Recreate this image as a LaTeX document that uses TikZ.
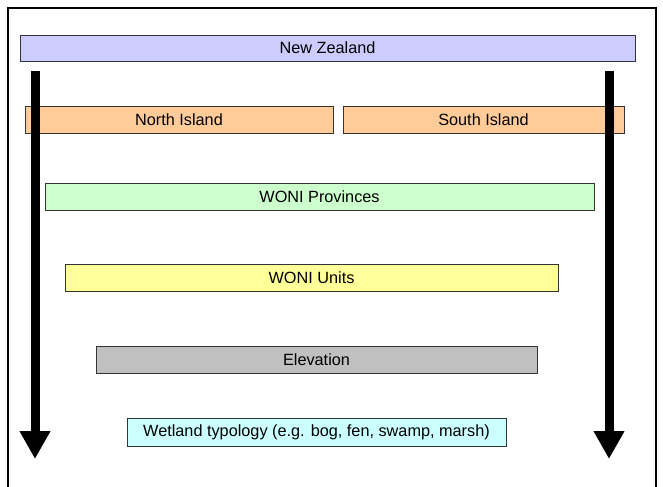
\documentclass[tikz,border=0pt]{standalone}
\usepackage{fontspec}
\setmainfont{Liberation Sans}
\usetikzlibrary{arrows.meta}
\definecolor{nzc}{HTML}{CCCCFF}
\definecolor{isc}{HTML}{FFCC99}
\definecolor{prc}{HTML}{CCFFCC}
\definecolor{unc}{HTML}{FFFF99}
\definecolor{elc}{HTML}{C0C0C0}
\definecolor{wtc}{HTML}{CCFFFF}
\definecolor{edge}{HTML}{333333}
\begin{document}
\begin{tikzpicture}[x=0.75pt,y=-0.75pt,
  levelbox/.style={draw=edge, line width=0.75pt, rectangle, inner sep=0pt,
    font=\fontsize{12.2}{14}\selectfont, text=black},
  bigarrow/.style={line width=6.75pt, -{Triangle[width=21.75pt,length=21pt]}}]
\useasboundingbox (0,0) rectangle (663,486);
\fill[white] (0,0) rectangle (663,486);
\draw[line width=1.5pt] (8,490) -- (8,8) -- (656,8) -- (656,490);
\node[levelbox, fill=nzc, minimum width={615*0.75pt}, minimum height={26*0.75pt}] (nz) at (327.5,48) {New Zealand};
\node[levelbox, fill=isc, minimum width={308*0.75pt}, minimum height={27*0.75pt}] (ni) at (179,119.5) {North Island};
\node[levelbox, fill=isc, minimum width={281*0.75pt}, minimum height={27*0.75pt}] (si) at (483.5,119.5) {South Island};
\node[levelbox, fill=prc, minimum width={549*0.75pt}, minimum height={27*0.75pt}] (prov) at (319.5,196.5) {WONI Provinces};
\node[levelbox, fill=unc, minimum width={493*0.75pt}, minimum height={27*0.75pt}] (units) at (311.5,277.5) {WONI Units};
\node[levelbox, fill=elc, minimum width={441*0.75pt}, minimum height={27*0.75pt}] (elev) at (316.5,359.5) {Elevation};
\node[levelbox, fill=wtc, minimum width={379*0.75pt}, minimum height={28*0.75pt}] (wet) at (316.5,432) {Wetland typology (e.g. bog, fen, swamp, marsh)};
\coordinate (lstart) at (35,71);
\coordinate (lend) at (35,459);
\coordinate (rstart) at (609,71);
\coordinate (rend) at (609,459);
\draw[bigarrow] (lstart) -- (lend);
\draw[bigarrow] (rstart) -- (rend);
\end{tikzpicture}
\end{document}
